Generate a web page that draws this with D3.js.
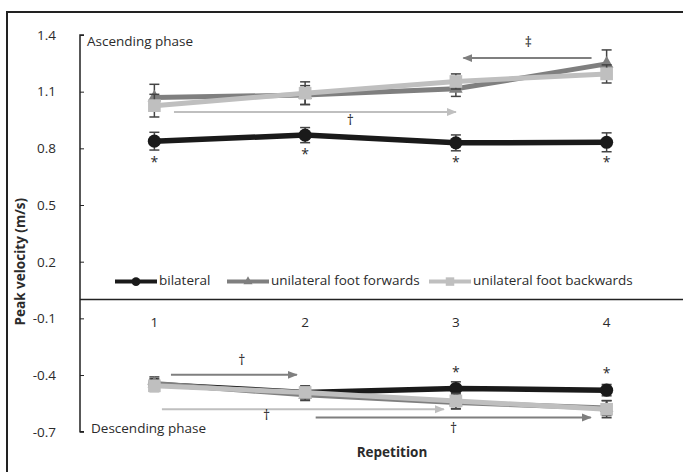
<!DOCTYPE html>
<html>
<head>
<meta charset="utf-8">
<script src="https://cdn.jsdelivr.net/npm/d3@7"></script>
<style>
  body { margin: 0; background: #fff; }
  text { font-family: "Open Sans", sans-serif; fill: #2b2b2b; }
</style>
</head>
<body>
<div id="chart"></div>
<script>
// categories and ticks
const reps = ["1", "2", "3", "4"];
const yTicks = [-0.7, -0.4, -0.1, 0.2, 0.5, 0.8, 1.1, 1.4];

// ascending phase (mean, error)
const ascBilateral = [0.838, 0.870, 0.829, 0.832];
const ascBilateralErr = [0.047, 0.040, 0.042, 0.050];
const ascForwards = [1.069, 1.082, 1.115, 1.247];
const ascForwardsErr = [0.070, 0.050, 0.040, 0.074];
const ascBackwards = [1.026, 1.092, 1.154, 1.194];
const ascBackwardsErr = [0.060, 0.060, 0.040, 0.048];

// descending phase
const descBilateral = [-0.450, -0.492, -0.471, -0.480];
const descBilateralErr = [0.030, 0.030, 0.035, 0.030];
const descForwards = [-0.445, -0.505, -0.545, -0.575];
const descForwardsErr = [0.035, 0.030, 0.035, 0.040];
const descBackwards = [-0.457, -0.492, -0.537, -0.581];
const descBackwardsErr = [0.030, 0.035, 0.040, 0.045];

const seriesNames = ["bilateral", "unilateral foot forwards", "unilateral foot backwards"];

// significance arrows: [fromRep, toRep, value]
const arrows = [
  { from: 3.9, to: 3.05, v: 1.278, color: "#7f7f7f" },
  { from: 1.13, to: 3.0, v: 0.992, color: "#bfbfbf" },
  { from: 1.11, to: 1.945, v: -0.399, color: "#7f7f7f" },
  { from: 1.05, to: 2.92, v: -0.581, color: "#bfbfbf" },
  { from: 2.07, to: 3.895, v: -0.625, color: "#7f7f7f" }
];
const marks = [
  { r: 3.48, v: 1.355, s: "\u2021" },
  { r: 2.30, v: 0.945, s: "\u2020" },
  { r: 1.58, v: -0.325, s: "\u2020" },
  { r: 1.745, v: -0.616, s: "\u2020" },
  { r: 2.985, v: -0.687, s: "\u2020" },
  { r: 1, v: 0.722, s: "*" },
  { r: 2, v: 0.765, s: "*" },
  { r: 3, v: 0.722, s: "*" },
  { r: 4, v: 0.722, s: "*" },
  { r: 3, v: -0.389, s: "*" },
  { r: 4, v: -0.396, s: "*" }
];

const W = 683, H = 472;
const svg = d3.select("#chart").append("svg").attr("width", W).attr("height", H);

const defs = svg.append("defs");
["#7f7f7f", "#bfbfbf"].forEach((c, i) => {
  defs.append("marker").attr("id", "ah" + i)
    .attr("viewBox", "0 0 10 10").attr("refX", 9).attr("refY", 5)
    .attr("markerWidth", 5).attr("markerHeight", 5).attr("orient", "auto")
    .append("path").attr("d", "M0,1 L10,5 L0,9 Z").attr("fill", c);
});

// frame
svg.append("rect").attr("x", 7).attr("y", 12).attr("width", 720).attr("height", 500)
  .attr("fill", "none").attr("stroke", "#222").attr("stroke-width", 2);

const x = d3.scalePoint().domain(reps).range([79, 682]).padding(0.5);
const xl = d3.scaleLinear().domain([1, 4]).range([x("1"), x("4")]);
const y = d3.scaleLinear().domain([-0.7, 1.4]).range([431.7, 35]);

// y axis
const yAxis = svg.append("g").attr("transform", "translate(80,0)")
  .call(d3.axisRight(y).tickValues(yTicks).tickSize(4)
    .tickFormat(d => d3.format(".1f")(d).replace("\u2212", "-")));
yAxis.select(".domain").attr("stroke", "#222").attr("stroke-width", 1.5).attr("d", `M4,${y(1.4)}H0V${y(-0.7)}H4`);
yAxis.selectAll(".tick line").attr("stroke", "#222");
yAxis.selectAll(".tick text").attr("x", -24).attr("text-anchor", "end")
  .style("font-size", "13.5px").attr("fill", "#333");

// zero line with category labels
svg.append("line").attr("x1", 80).attr("x2", W).attr("y1", y(0)).attr("y2", y(0))
  .attr("stroke", "#222").attr("stroke-width", 1.5);
svg.append("g").selectAll("text").data(reps).join("text")
  .attr("x", d => x(d)).attr("y", y(0) + 28).attr("text-anchor", "middle")
  .style("font-size", "13.5px").text(d => d);

// axis titles
svg.append("text").attr("transform", `translate(21,${y(0.2)}) rotate(-90)`)
  .attr("text-anchor", "middle").attr("dominant-baseline", "middle")
  .style("font-size", "13.5px").style("font-weight", "bold").attr("fill", "#222")
  .text("Peak velocity (m/s)");
svg.append("text").attr("x", 392).attr("y", 457).attr("text-anchor", "middle")
  .style("font-size", "13.5px").style("font-weight", "bold").attr("fill", "#222")
  .text("Repetition");
svg.append("text").attr("x", 87).attr("y", y(1.4) + 11)
  .style("font-size", "13.5px").text("Ascending phase");
svg.append("text").attr("x", 91).attr("y", y(-0.7) + 1)
  .style("font-size", "13.5px").text("Descending phase");

// annotations
svg.append("g").selectAll("line").data(arrows).join("line")
  .attr("x1", d => xl(d.from)).attr("x2", d => xl(d.to))
  .attr("y1", d => y(d.v)).attr("y2", d => y(d.v))
  .attr("stroke", d => d.color).attr("stroke-width", 2)
  .attr("marker-end", d => d.color === "#7f7f7f" ? "url(#ah0)" : "url(#ah1)");
svg.append("g").selectAll("text").data(marks).join("text")
  .attr("x", d => xl(d.r)).attr("y", d => y(d.v))
  .attr("text-anchor", "middle").attr("dominant-baseline", "middle")
  .style("font-size", "14px").attr("fill", "#333").text(d => d.s);

const styles = [
  { color: "#1a1a1a", shape: d3.symbolCircle, size: 135, width: 5.5 },
  { color: "#7f7f7f", shape: d3.symbolTriangle, size: 80, width: 5 },
  { color: "#bfbfbf", shape: d3.symbolSquare, size: 160, width: 5 }
];
const phases = [
  [ascBilateral, ascForwards, ascBackwards],
  [descBilateral, descForwards, descBackwards]
];
const phaseErr = [
  [ascBilateralErr, ascForwardsErr, ascBackwardsErr],
  [descBilateralErr, descForwardsErr, descBackwardsErr]
];

const line = d3.line().x((d, i) => x(reps[i])).y(d => y(d));

phases.forEach((ph, p) => {
  ph.forEach((vals, s) => {
    const st = styles[s];
    const g = svg.append("g");
    const pts = vals.map((v, i) => ({ rep: reps[i], v: v, e: phaseErr[p][s][i] }));
    // error bars
    const eb = g.selectAll(".eb").data(pts).join("g");
    eb.append("line").attr("x1", d => x(d.rep)).attr("x2", d => x(d.rep))
      .attr("y1", d => y(d.v - d.e)).attr("y2", d => y(d.v + d.e))
      .attr("stroke", "#444").attr("stroke-width", 1.5);
    [1, -1].forEach(sg => {
      eb.append("line").attr("x1", d => x(d.rep) - 5).attr("x2", d => x(d.rep) + 5)
        .attr("y1", d => y(d.v + sg * d.e)).attr("y2", d => y(d.v + sg * d.e))
        .attr("stroke", "#444").attr("stroke-width", 1.5);
    });
    g.append("path").datum(vals).attr("d", line).attr("fill", "none")
      .attr("stroke", st.color).attr("stroke-width", st.width);
    g.selectAll(".pt").data(pts).join("path")
      .attr("transform", d => `translate(${x(d.rep)},${y(d.v)})`)
      .attr("d", d3.symbol().type(st.shape).size(st.size)).attr("fill", st.color);
  });
});

// legend
const legendX = [115, 227, 429];
const lg = svg.append("g").selectAll("g").data(seriesNames).join("g")
  .attr("transform", (d, i) => `translate(${legendX[i]},${y(0.1) + 1})`);
lg.append("line").attr("x1", 0).attr("x2", 42).attr("stroke", (d, i) => styles[i].color)
  .attr("stroke-width", 4);
lg.append("path").attr("transform", "translate(21,0)")
  .attr("d", (d, i) => d3.symbol().type(styles[i].shape).size(styles[i].size * 0.45)())
  .attr("fill", (d, i) => styles[i].color);
lg.append("text").attr("x", 44).attr("dominant-baseline", "middle")
  .style("font-size", "13.5px").text(d => d);
</script>
</body>
</html>
